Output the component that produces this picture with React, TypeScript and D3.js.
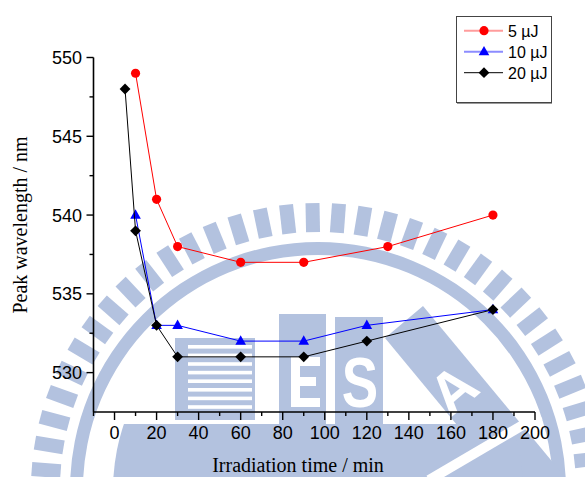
import React from "react";
import * as d3 from "d3";

const W = 585;
const H = 477;

const seriesNames = ["5 \u00b5J", "10 \u00b5J", "20 \u00b5J"];
const xs5 = [10, 20, 30, 60, 90, 130, 180];
const ys5 = [549, 541, 538, 537, 537, 538, 540];
const xs10 = [10, 20, 30, 60, 90, 120, 180];
const ys10 = [540, 533, 533, 532, 532, 533, 534];
const xs20 = [5, 10, 20, 30, 60, 90, 120, 180];
const ys20 = [548, 539, 533, 531, 531, 531, 532, 534];

const xMajor = [0, 20, 40, 60, 80, 100, 120, 140, 160, 180, 200];
const xMinor = [-10, 10, 30, 50, 70, 90, 110, 130, 150, 170, 190];
const yMajor = [530, 535, 540, 545, 550];
const yMinor = [532.5, 537.5, 542.5, 547.5];

const WM = "#b3c2df";

function Watermark() {
  const cx = 318, cy = 490;
  const N = 68;
  const teeth = d3.range(N).map((i) => -1.1 + (i * 360) / N);
  const stripes = d3.range(8).map((k) => 345 + k * 8.6);
  const arcBand = d3.arc()({ innerRadius: 235, outerRadius: 248, startAngle: 0, endAngle: Math.PI * 2 } as any) as string;
  return (
    <g>
      <defs>
        <clipPath id="innerClip">
          <circle cx={cx} cy={cy} r={205} />
        </clipPath>
      </defs>
      <g transform={`translate(${cx},${cy})`}>
        {teeth.map((a, i) => (
          <rect key={i} x={-7} y={-287} width={14} height={29} fill={WM} transform={`rotate(${a})`} />
        ))}
        <path d={arcBand} fill={WM} />
      </g>
      <rect x={175} y={338} width={80} height={82} fill={WM} />
      {stripes.map((s, i) => (
        <rect key={i} x={188} y={s} width={64} height={3.6} fill="#fff" />
      ))}
      <rect x={279} y={314} width={47} height={112} fill={WM} />
      <rect x={291} y={357} width={9} height={50} fill="#fff" />
      <rect x={291} y={357} width={29} height={9} fill="#fff" />
      <rect x={291} y={377} width={25} height={9} fill="#fff" />
      <rect x={291} y={398} width={29} height={9} fill="#fff" />
      <rect x={335} y={317} width={48} height={110} fill={WM} />
      <text
        x={0}
        y={0}
        transform="translate(360,407) scale(0.78,1)"
        textAnchor="middle"
        fontFamily="Liberation Sans, Arial, sans-serif"
        fontWeight="bold"
        fontSize={70}
        fill="#fff"
      >
        S
      </text>
      <polygon points="385,338 423,306 565,477 500,477" fill={WM} />
      <text
        x={0}
        y={0}
        transform="translate(452,388) rotate(-40) translate(0,22)"
        textAnchor="middle"
        fontFamily="Liberation Sans, Arial, sans-serif"
        fontWeight="bold"
        fontSize={58}
        fill="#fff"
      >
        A
      </text>
      <g clipPath="url(#innerClip)">
        <rect x={0} y={424} width={W} height={60} fill={WM} />
      </g>
      <line x1={429} y1={480} x2={540} y2={415} stroke="#fff" strokeWidth={10} />
    </g>
  );
}

export default function App() {
  const x = d3.scaleLinear().domain([-10, 200]).range([93.5, 535]);
  const y = d3.scaleLinear().domain([527.5, 550]).range([412, 57.5]);

  const line = (xs: number[], ys: number[]) =>
    d3
      .line<number>()
      .x((_, i) => x(xs[i]))
      .y((v) => y(v))(ys) as string;

  const circle = d3.symbol().type(d3.symbolCircle).size(66)() as string;
  const tri = "M0,-5.8L5.3,3.6L-5.3,3.6Z";
  const dia = "M0,-5.4L5.4,0L0,5.4L-5.4,0Z";

  const series = [
    { name: seriesNames[0], xs: xs5, ys: ys5, color: "#ff0000", legendColor: "#ff9c9c", lw: 2, marker: circle },
    { name: seriesNames[1], xs: xs10, ys: ys10, color: "#0000ff", legendColor: "#8c8cff", lw: 2, marker: tri },
    { name: seriesNames[2], xs: xs20, ys: ys20, color: "#000000", legendColor: "#000000", lw: 1, marker: dia },
  ];

  const tickFont = "Liberation Sans, Arial, sans-serif";
  const titleFont = "Liberation Serif, Times New Roman, serif";

  return (
    <svg width={W} height={H} style={{ position: "absolute", left: 0, top: 0, background: "#fff" }}>
      <rect x={0} y={0} width={W} height={H} fill="#fff" />
      <Watermark />

      <line x1={x(-10)} y1={y(527.5)} x2={x(-10)} y2={y(550)} stroke="#000" strokeWidth={1.6} />
      <line x1={x(-10)} y1={y(527.5)} x2={x(200)} y2={y(527.5)} stroke="#000" strokeWidth={1.6} />
      {yMajor.map((v) => (
        <g key={"ym" + v}>
          <line x1={x(-10) - 7} x2={x(-10)} y1={y(v)} y2={y(v)} stroke="#000" strokeWidth={1.4} />
          <text x={82} y={y(v) + 6.5} textAnchor="end" fontFamily={tickFont} fontSize={18} fill="#000">
            {v}
          </text>
        </g>
      ))}
      {yMinor.map((v) => (
        <line key={"yn" + v} x1={x(-10) - 4} x2={x(-10)} y1={y(v)} y2={y(v)} stroke="#000" strokeWidth={1.4} />
      ))}
      {xMajor.map((v) => (
        <g key={"xm" + v}>
          <line x1={x(v)} x2={x(v)} y1={y(527.5)} y2={y(527.5) + 8} stroke="#000" strokeWidth={1.4} />
          <text x={x(v)} y={438.5} textAnchor="middle" fontFamily={tickFont} fontSize={18} fill="#000">
            {v}
          </text>
        </g>
      ))}
      {xMinor.map((v) => (
        <line key={"xn" + v} x1={x(v)} x2={x(v)} y1={y(527.5)} y2={y(527.5) + 4} stroke="#000" strokeWidth={1.4} />
      ))}

      <text x={298} y={472} textAnchor="middle" fontFamily={titleFont} fontSize={20} fill="#000">
        Irradiation time / min
      </text>
      <text
        transform="translate(27,225) rotate(-90)"
        textAnchor="middle"
        fontFamily={titleFont}
        fontSize={20}
        fill="#000"
      >
        Peak wavelength / nm
      </text>

      {series.map((s) => (
        <g key={s.name}>
          <path d={line(s.xs, s.ys)} fill="none" stroke={s.color} strokeWidth={1} />
          {s.ys.map((v, i) => (
            <path key={i} d={s.marker} transform={`translate(${x(s.xs[i])},${y(v)})`} fill={s.color} />
          ))}
        </g>
      ))}

      <rect x={456.5} y={16.5} width={95} height={86} fill="#fff" stroke="#444" strokeWidth={1} />
      <line x1={457} y1={103.5} x2={552} y2={103.5} stroke="#999" strokeWidth={1} />
      {series.map((s, i) => {
        const ly = 30.7 + i * 21;
        return (
          <g key={"lg" + i}>
            <line x1={464} x2={503} y1={ly} y2={ly} stroke={s.legendColor} strokeWidth={s.lw} />
            <path d={s.marker} transform={`translate(484,${ly})`} fill={s.color} />
            <text x={508} y={ly + 6} fontFamily={tickFont} fontSize={16} fill="#000">
              {s.name}
            </text>
          </g>
        );
      })}
    </svg>
  );
}
